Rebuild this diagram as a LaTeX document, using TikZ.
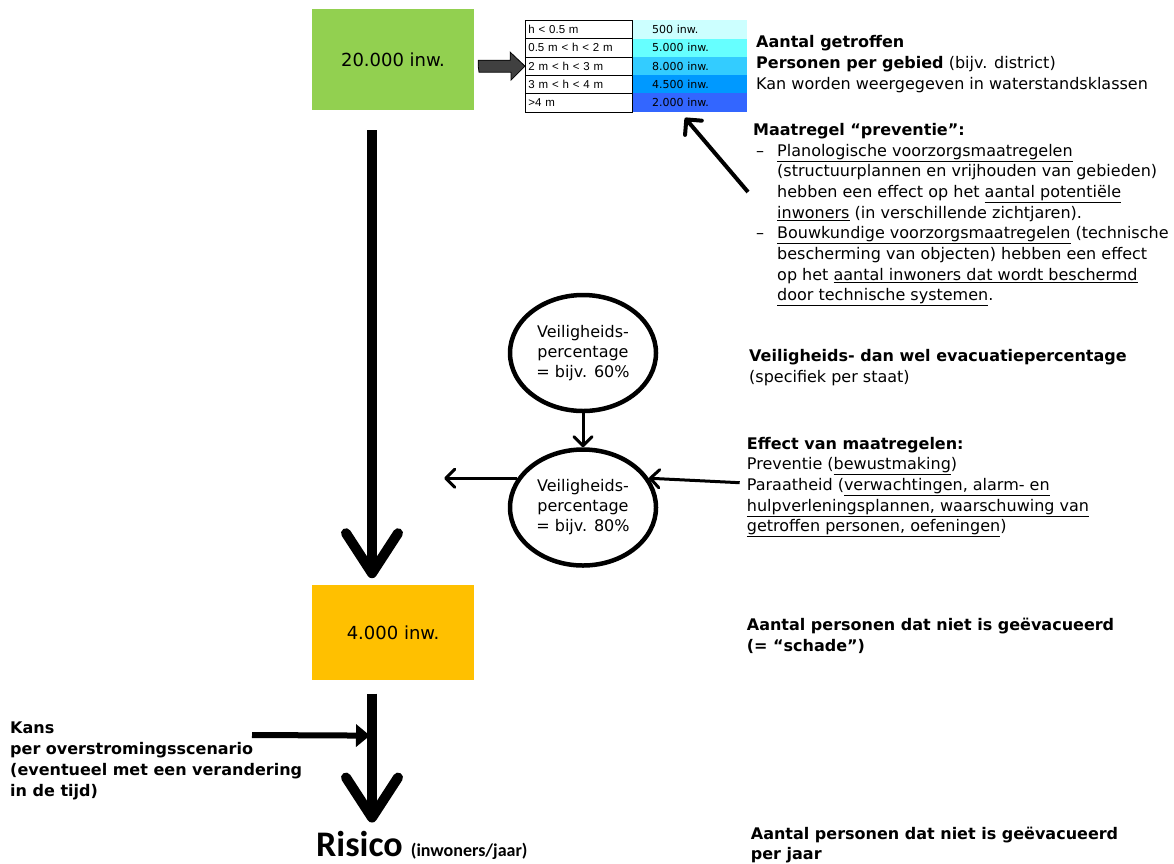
\documentclass[tikz,border=0pt]{standalone}
\usepackage{fontspec}
\setmainfont{DejaVu Sans}
\newfontfamily\tabfont{Liberation Sans}
\newfontfamily\risicofont{Carlito}
\usetikzlibrary{positioning,arrows.meta,calc,shapes.geometric}

\definecolor{groen}{HTML}{92D050}
\definecolor{oranje}{HTML}{FFC000}
\definecolor{pijlgrijs}{HTML}{404040}
\definecolor{water1}{HTML}{CCFFFF}
\definecolor{water2}{HTML}{66FFFF}
\definecolor{water3}{HTML}{33CCFF}
\definecolor{water4}{HTML}{0099FF}
\definecolor{water5}{HTML}{3366FF}

\begin{document}
\begin{tikzpicture}[x=1pt, y=-1pt,
    font=\fontsize{16}{20.7}\selectfont,
    blok/.style={minimum width=162pt, minimum height=101pt, inner sep=0pt,
                 font=\fontsize{18}{22}\selectfont},
    klasse/.style={draw, line width=0.8pt, anchor=north west, minimum height=18.3pt,
                   text width=101pt, inner xsep=3pt, inner ysep=0pt, align=left,
                   font=\tabfont\fontsize{11.5}{12}\selectfont},
    aantal/.style={anchor=north west, minimum height=18.3pt, text width=75pt,
                   inner xsep=20pt, inner ysep=0pt, align=left,
                   font=\fontsize{11}{12}\selectfont},
    tekst/.style={anchor=north west, align=left, inner sep=0pt},
    kader/.style={ellipse, draw, line width=4.5pt, minimum width=146pt,
                  minimum height=116pt, inner sep=0pt, align=center,
                  font=\fontsize{16}{20}\selectfont},
    dikpijl/.style={line width=10pt, -{Straight Barb[length=40pt, width=52pt, round]}},
    dunpijl/.style={line width=3pt, -{Straight Barb[length=9pt, width=18pt, round]}},
    schuinpijl/.style={line width=4pt, -{Straight Barb[length=11pt, width=22pt, round]}},
    kanspijl/.style={line width=6pt, -{Triangle[length=14pt, width=22pt]}}
]
\useasboundingbox (0,0) rectangle (1174,863);

% inwoners per gebied en na evacuatie
\node[blok, fill=groen]                (bron)   at (393,59.5) {20.000 inw.};
\node[blok, fill=oranje, minimum height=95pt, below=475pt of bron] (oranje) {4.000 inw.};

% tabel met waterstandsklassen
\foreach \lbl/\num [count=\i] in {{h < 0.5 m}/{500 inw.},
                                  {0.5 m < h < 2 m}/{5.000 inw.},
                                  {2 m < h < 3 m}/{8.000 inw.},
                                  {3 m < h < 4 m}/{4.500 inw.},
                                  {>4 m}/{2.000 inw.}}{
  \node[aantal, fill=water\i] (aantal\i) at (632,{20+18.3*(\i-1)}) {\num};
  \node[klasse]               (klasse\i) at (525,{20+18.3*(\i-1)}) {\lbl};
}

% dikke grijze pijl naar de tabel
\coordinate (pA) at ($(bron.east |- klasse3.west)+(4,0)$);
\draw[fill=pijlgrijs, line width=0.8pt] (pA) -- ++(0,-6) -- ++(32,0) -- ++(0,-8)
    -- (klasse3.west) -- ++(-14,14) -- ++(0,-8) -- ++(-32,0) -- cycle;

% teksten rechts
\node[tekst] (getroffen) at (756,35.5)
    {\textbf{Aantal getroffen}\\
     \textbf{Personen per gebied} (bijv. district)\\
     Kan worden weergegeven in waterstandsklassen};

\node[tekst] (maatregel) at (753,123)
    {\textbf{Maatregel “preventie”:}\\
     \makebox[24pt][l]{\hspace{3pt}–}\underline{Planologische voorzorgsmaatregelen}\\
     \hspace*{24pt}(structuurplannen en vrijhouden van gebieden)\\
     \hspace*{24pt}hebben een effect op het \underline{aantal potentiële}\\
     \hspace*{24pt}\underline{inwoners} (in verschillende zichtjaren).\\
     \makebox[24pt][l]{\hspace{3pt}–}\underline{Bouwkundige voorzorgsmaatregelen} (technische\\
     \hspace*{24pt}bescherming van objecten) hebben een effect\\
     \hspace*{24pt}op het \underline{aantal inwoners dat wordt beschermd}\\
     \hspace*{24pt}\underline{door technische systemen}.};

\node[tekst] (veiligtekst) at (749,349)
    {\textbf{Veiligheids- dan wel evacuatiepercentage}\\
     (specifiek per staat)};

\node[tekst] (effect) at (746.7,436.7)
    {\textbf{Effect van maatregelen:}\\
     Preventie (\underline{bewustmaking})\\
     Paraatheid (\underline{verwachtingen, alarm- en}\\
     \underline{hulpverleningsplannen, waarschuwing van}\\
     \underline{getroffen personen, oefeningen})};

\node[tekst, font=\fontsize{16}{20.7}\selectfont\bfseries] (schade) at (746.7,618)
    {Aantal personen dat niet is geëvacueerd\\
     (= “schade”)};

\node[tekst, font=\fontsize{16}{20.7}\selectfont\bfseries] (perjaar) at (750.7,826.5)
    {Aantal personen dat niet is geëvacueerd\\
     per jaar};

\node[tekst, font=\fontsize{16}{21}\selectfont\bfseries] (kans) at (10,722)
    {Kans\\
     per overstromingsscenario\\
     (eventueel met een verandering\\
     in de tijd)};

% veiligheidspercentages
\node[kader]                      (veilig1) at (583,353) {Veiligheids-\\percentage\\= bijv. 60\%};
\node[kader, below=34pt of veilig1] (veilig2) {Veiligheids-\\percentage\\= bijv. 80\%};

\node[anchor=base west, inner sep=0pt, font=\risicofont\bfseries] (risico) at (316,856)
    {\fontsize{36}{40}\selectfont Risico \fontsize{18}{20}\selectfont(inwoners/jaar)};

% pijlen
\draw[dikpijl] ($(bron.south)+(-21,20)$) -- ($(oranje.north)+(-21,-7)$);
\draw[dikpijl] ($(oranje.south)+(-21,13)$) -- ($(risico.north west)+(56,-8)$);
\draw[kanspijl] (252,735) -- ($(oranje.south)+(-23,55)$);
\draw[schuinpijl] ($(maatregel.north west)+(-5,69)$) -- ($(aantal5.south west)+(53,6)$);
\draw[dunpijl] (veilig1) -- (veilig2);
\draw[dunpijl] (veilig2.156) -- ($(veilig2.156)+(-73,0)$);
\draw[dunpijl] ($(effect.north west)+(-7,46)$) -- (veilig2.24);

\end{tikzpicture}
\end{document}
